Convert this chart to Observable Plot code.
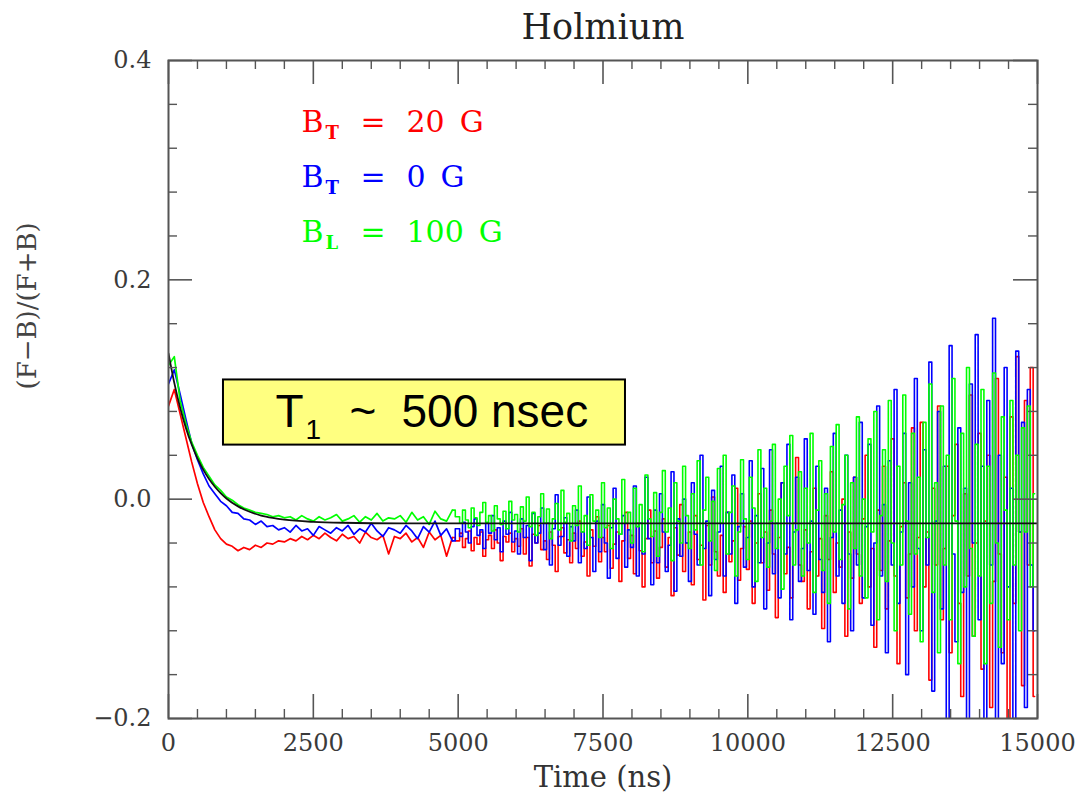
<!DOCTYPE html>
<html>
<head>
<meta charset="utf-8">
<script src="https://cdn.jsdelivr.net/npm/d3@7"></script>
<script src="https://cdn.jsdelivr.net/npm/@observablehq/plot@0.6"></script>
<style>
  html, body { margin: 0; padding: 0; background: #fff; }
</style>
</head>
<body>
<div id="chart"></div>
<script>
// ---- Data ----
// time bins in ns: 100 ns bins up to 5000 ns, 50 ns bins after
const time = [
  0,100,200,300,400,500,600,700,800,900,1000,1100,1200,1300,1400,1500,1600,1700,1800,1900,
  2000,2100,2200,2300,2400,2500,2600,2700,2800,2900,3000,3100,3200,3300,3400,3500,3600,3700,3800,3900,
  4000,4100,4200,4300,4400,4500,4600,4700,4800,4900,
  5000,5050,5100,5150,5200,5250,5300,5350,5400,5450,5500,5550,5600,5650,5700,5750,5800,5850,5900,5950,
  6000,6050,6100,6150,6200,6250,6300,6350,6400,6450,6500,6550,6600,6650,6700,6750,6800,6850,6900,6950,
  7000,7050,7100,7150,7200,7250,7300,7350,7400,7450,7500,7550,7600,7650,7700,7750,7800,7850,7900,7950,
  8000,8050,8100,8150,8200,8250,8300,8350,8400,8450,8500,8550,8600,8650,8700,8750,8800,8850,8900,8950,
  9000,9050,9100,9150,9200,9250,9300,9350,9400,9450,9500,9550,9600,9650,9700,9750,9800,9850,9900,9950,
  10000,10050,10100,10150,10200,10250,10300,10350,10400,10450,10500,10550,10600,10650,10700,10750,10800,10850,10900,10950,
  11000,11050,11100,11150,11200,11250,11300,11350,11400,11450,11500,11550,11600,11650,11700,11750,11800,11850,11900,11950,
  12000,12050,12100,12150,12200,12250,12300,12350,12400,12450,12500,12550,12600,12650,12700,12750,12800,12850,12900,12950,
  13000,13050,13100,13150,13200,13250,13300,13350,13400,13450,13500,13550,13600,13650,13700,13750,13800,13850,13900,13950,
  14000,14050,14100,14150,14200,14250,14300,14350,14400,14450,14500,14550,14600,14650,14700,14750,14800,14850,14900,14950
];

// B_T = 20 G (red)
const asymBT20 = [
  0.085,0.100,0.078,0.056,0.034,0.014,-0.003,-0.016,-0.028,-0.036,-0.041,-0.043,-0.047,-0.044,-0.046,-0.042,-0.044,-0.040,-0.041,-0.038,
  -0.039,-0.036,-0.038,-0.034,-0.037,-0.033,-0.036,-0.031,-0.035,-0.038,-0.032,-0.036,-0.034,-0.040,-0.030,-0.035,-0.037,-0.033,-0.050,-0.034,
  -0.036,-0.031,-0.039,-0.035,-0.044,-0.030,-0.037,-0.033,-0.052,-0.035,
  -0.038,-0.031,-0.044,-0.036,-0.029,-0.047,-0.035,-0.041,-0.030,-0.052,-0.037,-0.033,-0.045,-0.028,-0.040,-0.056,-0.034,-0.039,-0.031,-0.048,
  -0.036,-0.043,-0.027,-0.050,-0.035,-0.061,-0.032,-0.040,-0.024,-0.046,-0.038,-0.055,-0.030,-0.042,-0.066,-0.034,-0.026,-0.049,-0.037,-0.058,
  -0.031,-0.045,-0.020,-0.052,-0.039,-0.070,-0.028,-0.043,-0.016,-0.057,-0.035,-0.048,-0.024,-0.063,-0.041,-0.030,-0.075,-0.038,-0.012,-0.054,
  -0.033,-0.068,-0.022,-0.047,-0.080,-0.036,-0.010,-0.058,-0.029,-0.072,-0.044,-0.018,-0.062,-0.035,-0.088,-0.026,-0.051,-0.005,-0.066,-0.040,
  -0.030,-0.078,-0.015,-0.055,-0.042,-0.092,-0.024,-0.060,0.002,-0.048,-0.070,-0.033,-0.085,-0.012,-0.057,-0.038,0.010,-0.074,-0.045,-0.025,
  -0.064,-0.020,-0.095,-0.040,0.005,-0.058,-0.030,-0.083,-0.010,-0.050,-0.108,-0.035,0.015,-0.068,-0.044,-0.090,-0.022,0.038,-0.060,-0.075,
  -0.028,-0.100,-0.048,0.010,-0.070,-0.036,-0.118,-0.015,-0.055,0.025,-0.085,-0.040,-0.062,0.000,-0.125,-0.030,-0.072,0.020,-0.050,-0.095,
  -0.018,0.040,-0.080,-0.045,-0.135,-0.010,-0.065,0.030,-0.100,-0.038,0.055,-0.070,-0.150,-0.025,0.015,-0.090,-0.050,0.065,-0.120,-0.035,
  0.070,-0.080,-0.030,-0.165,0.010,-0.060,0.085,-0.110,-0.045,0.030,-0.140,-0.015,0.050,-0.095,-0.180,0.005,-0.070,0.095,-0.125,-0.040,
  0.060,-0.155,-0.020,0.040,-0.190,-0.075,0.110,-0.050,-0.140,0.020,-0.200,0.075,-0.095,0.130,-0.030,-0.170,0.090,-0.060,0.120,-0.180
];

// B_T = 0 G (blue)
const asymBT0 = [
  0.105,0.118,0.096,0.073,0.051,0.036,0.023,0.012,0.005,-0.002,-0.006,-0.012,-0.013,-0.018,-0.019,-0.023,-0.020,-0.025,-0.024,-0.028,
  -0.026,-0.030,-0.024,-0.029,-0.027,-0.033,-0.025,-0.028,-0.031,-0.026,-0.029,-0.024,-0.032,-0.027,-0.030,-0.022,-0.029,-0.034,-0.026,-0.028,
  -0.031,-0.024,-0.029,-0.036,-0.025,-0.030,-0.020,-0.033,-0.027,-0.038,
  -0.027,-0.034,-0.021,-0.030,-0.040,-0.025,-0.018,-0.033,-0.028,-0.045,-0.022,-0.031,-0.015,-0.037,-0.026,-0.048,-0.020,-0.032,-0.012,-0.039,
  -0.029,-0.050,-0.018,-0.035,-0.024,-0.056,-0.013,-0.040,-0.031,-0.008,-0.046,-0.022,-0.060,-0.027,0.004,-0.042,-0.034,-0.017,-0.052,-0.025,
  -0.038,-0.010,-0.058,-0.030,-0.045,0.002,-0.035,-0.066,-0.020,-0.048,-0.005,-0.040,-0.072,-0.026,0.010,-0.054,-0.032,-0.015,-0.062,-0.028,
  -0.044,0.012,-0.070,-0.022,-0.050,0.020,-0.036,-0.078,-0.010,-0.058,0.005,-0.030,-0.066,-0.042,0.025,-0.084,-0.018,-0.052,0.000,-0.040,
  -0.075,0.015,-0.032,-0.060,0.040,-0.045,-0.020,-0.088,0.008,-0.055,-0.030,0.030,-0.070,-0.012,-0.050,0.022,-0.095,-0.025,0.005,-0.062,
  -0.035,0.035,-0.080,-0.015,-0.058,0.028,-0.100,-0.040,0.045,-0.068,-0.022,-0.090,0.015,-0.050,0.050,-0.110,-0.030,0.020,-0.075,-0.045,
  0.055,-0.065,-0.020,-0.105,0.030,-0.055,-0.085,0.010,-0.130,-0.035,0.060,-0.070,-0.010,-0.095,0.040,-0.050,-0.120,0.020,-0.060,0.070,
  -0.090,-0.025,0.050,-0.115,-0.040,0.085,-0.070,-0.005,-0.140,0.035,-0.060,0.100,-0.095,-0.030,0.060,-0.160,0.015,-0.080,0.110,-0.045,
  -0.120,0.045,-0.060,0.125,-0.175,-0.020,0.080,-0.100,0.030,-0.210,0.140,-0.050,-0.130,0.065,-0.085,0.010,-0.250,0.105,-0.040,0.150,
  -0.110,0.030,-0.220,0.090,-0.060,0.165,-0.260,0.040,-0.150,0.120,-0.080,0.010,-0.230,0.135,-0.030,0.070,-0.190,0.100,-0.060,-0.120
];

// B_L = 100 G (green)
const asymBL100 = [
  0.122,0.130,0.090,0.069,0.052,0.040,0.029,0.021,0.013,0.008,0.002,-0.001,-0.005,-0.008,-0.010,-0.012,-0.013,-0.014,-0.016,-0.015,
  -0.017,-0.016,-0.019,-0.015,-0.018,-0.020,-0.016,-0.019,-0.017,-0.014,-0.020,-0.018,-0.015,-0.021,-0.016,-0.019,-0.013,-0.020,-0.017,-0.018,
  -0.015,-0.021,-0.012,-0.019,-0.016,-0.023,-0.011,-0.018,-0.020,-0.010,
  -0.016,-0.022,-0.010,-0.019,-0.026,-0.008,-0.017,-0.024,-0.012,-0.003,-0.021,-0.015,-0.029,-0.006,-0.018,-0.023,-0.011,-0.027,-0.002,-0.019,
  -0.014,-0.030,-0.007,-0.020,0.002,-0.025,-0.012,-0.033,-0.016,0.005,-0.022,-0.009,-0.036,-0.018,-0.004,-0.028,0.008,-0.021,-0.013,-0.038,
  -0.006,-0.024,0.012,-0.030,-0.015,-0.042,0.004,-0.020,-0.010,-0.035,0.015,-0.026,-0.008,-0.045,0.000,-0.018,-0.032,0.018,-0.022,-0.012,
  -0.040,0.010,-0.025,-0.005,-0.048,0.022,-0.018,-0.034,0.006,-0.052,-0.012,0.026,-0.030,-0.008,-0.056,0.015,-0.020,-0.040,0.030,-0.015,
  -0.045,0.005,-0.028,0.035,-0.060,-0.010,0.020,-0.038,-0.002,-0.065,0.028,-0.022,0.040,-0.050,-0.012,0.012,-0.070,-0.030,0.036,-0.018,
  -0.055,0.020,-0.008,-0.075,0.045,-0.035,0.010,-0.062,-0.020,0.050,-0.045,0.000,-0.082,0.030,-0.015,0.058,-0.060,-0.028,0.025,-0.070,
  0.010,-0.040,0.060,-0.085,-0.010,0.035,-0.065,0.005,-0.095,0.048,-0.030,0.068,-0.055,-0.005,0.040,-0.100,0.015,-0.045,0.075,-0.070,
  0.000,-0.090,0.055,-0.030,0.080,-0.110,-0.015,0.045,-0.075,0.090,-0.040,-0.120,0.030,-0.060,0.095,-0.020,-0.105,0.060,-0.050,0.020,
  -0.130,0.070,-0.035,0.105,-0.085,0.015,-0.140,0.085,-0.060,0.040,-0.110,0.110,-0.020,-0.150,0.060,-0.080,0.120,-0.045,-0.125,0.050,
  -0.070,0.100,-0.150,0.030,-0.095,0.115,-0.040,-0.135,0.075,-0.010,-0.110,0.090,-0.060,0.040,-0.120,0.065,-0.030,0.085,-0.080,0.005
];

// Fit curve (black)
const fitTime  = [0,100,200,300,400,500,600,700,800,900,1000,1200,1400,1600,1800,2000,2500,3000,4000,15000];
const fitValue = [0.133,0.106,0.0835,0.065,0.0498,0.0373,0.0269,0.0183,0.0113,0.0055,0.0006,-0.0066,-0.0115,-0.0149,-0.0171,-0.0187,-0.0207,-0.0215,-0.022,-0.022];

const seriesNames  = ["BT20", "BT0", "BL100"];
const seriesColors = ["#ff0000", "#0000ff", "#00ff00"];
const xTicks = [0, 2500, 5000, 7500, 10000, 12500, 15000];
const yTicks = [-0.2, 0.0, 0.2, 0.4];

// ---- Build tables ----
const seriesValues = [asymBT20, asymBT0, asymBL100];
const rows = [];
seriesValues.forEach((vals, k) => vals.forEach((v, i) => rows.push({t: time[i], v, s: seriesNames[k]})));
const fitRows = fitTime.map((t, i) => ({t, v: fitValue[i]}));
const splitT = 4900; // early part drawn as a smooth trace, late noisy part as histogram steps

const W = 1075, H = 792;
const mL = 168, mR = 38, mT = 60, mB = 74;
const plotW = W - mL - mR, plotH = H - mT - mB;
const majorLen = 24, minorLen = 9;
const xMinor = d3.range(0, 15001, 500).filter(d => !xTicks.includes(d));
const yMinor = d3.range(-0.2, 0.401, 0.04).filter(d => !yTicks.some(t => Math.abs(t - d) < 1e-6));

const axisColor = "#555";
const serif = "DejaVu Serif";
const sans = "Liberation Sans, Arial, sans-serif";

const legend = [
  {sub: "T", rest: "20\u2002G", color: "#ff0000", base: 131},
  {sub: "T", rest: "0\u2002G",  color: "#0000ff", base: 186},
  {sub: "L", rest: "100\u2002G", color: "#00ff00", base: 241}
];

const marks = [
  ...seriesNames.flatMap((name, k) => [
    Plot.line(rows.filter(r => r.s === name && r.t <= splitT), {
      x: "t", y: "v", stroke: seriesColors[k], strokeWidth: 1.7, curve: "linear", clip: true
    }),
    Plot.line(rows.filter(r => r.s === name && r.t >= splitT), {
      x: "t", y: "v", stroke: seriesColors[k], strokeWidth: 1.6, curve: "step", clip: true
    })
  ]),
  Plot.line(fitRows, {x: "t", y: "v", stroke: "#111", strokeWidth: 1.8, curve: "monotone-x", clip: true}),

  // annotation box
  Plot.rect([{x1: 949, x2: 7888, y1: 0.0493, y2: 0.1087}], {x1: "x1", x2: "x2", y1: "y1", y2: "y2", fill: "#ffff80", stroke: "#000", strokeWidth: 2}),
  Plot.text(["T"], {frameAnchor: "top-left", dx: 107, dy: 366, lineAnchor: "bottom", textAnchor: "start", fontSize: 46, fontFamily: sans, fill: "#000"}),
  Plot.text(["1"], {frameAnchor: "top-left", dx: 137, dy: 378, lineAnchor: "bottom", textAnchor: "start", fontSize: 28, fontFamily: sans, fill: "#000"}),
  Plot.text(["~"], {frameAnchor: "top-left", dx: 181, dy: 366, lineAnchor: "bottom", textAnchor: "start", fontSize: 46, fontFamily: sans, fill: "#000"}),
  Plot.text(["500 nsec"], {frameAnchor: "top-left", dx: 233, dy: 366, lineAnchor: "bottom", textAnchor: "start", fontSize: 46, fontFamily: sans, fill: "#000"}),

  // legend
  ...legend.flatMap(l => [
    Plot.text(["B"], {frameAnchor: "top-left", dx: 133, dy: l.base - mT, lineAnchor: "bottom", textAnchor: "start", fontSize: 30, fontFamily: serif, fill: l.color}),
    Plot.text([l.sub], {frameAnchor: "top-left", dx: 157, dy: l.base - mT + 7, lineAnchor: "bottom", textAnchor: "start", fontSize: 18, fontWeight: "bold", fontFamily: serif, fill: l.color}),
    Plot.text(["="], {frameAnchor: "top-left", dx: 192, dy: l.base - mT, lineAnchor: "bottom", textAnchor: "start", fontSize: 30, fontFamily: serif, fill: l.color}),
    Plot.text([l.rest], {frameAnchor: "top-left", dx: 238, dy: l.base - mT, lineAnchor: "bottom", textAnchor: "start", fontSize: 30, fontFamily: serif, fill: l.color})
  ]),

  // frame and inward ticks
  Plot.frame({stroke: axisColor, strokeWidth: 2}),
  Plot.tickX(xTicks, {x: d => d, insetTop: plotH - majorLen, stroke: axisColor, strokeWidth: 1.6}),
  Plot.tickX(xTicks, {x: d => d, insetBottom: plotH - majorLen, stroke: axisColor, strokeWidth: 1.6}),
  Plot.tickX(xMinor, {x: d => d, insetTop: plotH - minorLen, stroke: axisColor, strokeWidth: 1.4}),
  Plot.tickX(xMinor, {x: d => d, insetBottom: plotH - minorLen, stroke: axisColor, strokeWidth: 1.4}),
  Plot.tickY(yTicks, {y: d => d, insetRight: plotW - majorLen, stroke: axisColor, strokeWidth: 1.6}),
  Plot.tickY(yTicks, {y: d => d, insetLeft: plotW - majorLen, stroke: axisColor, strokeWidth: 1.6}),
  Plot.tickY(yMinor, {y: d => d, insetRight: plotW - minorLen, stroke: axisColor, strokeWidth: 1.4}),
  Plot.tickY(yMinor, {y: d => d, insetLeft: plotW - minorLen, stroke: axisColor, strokeWidth: 1.4}),

  // axes (tick labels)
  Plot.axisX({ticks: xTicks, tickSize: 0, tickPadding: 15, tickFormat: d3.format("d"), fontSize: 24, label: null, fill: "#3a3a3a"}),
  Plot.axisY({ticks: yTicks, tickSize: 0, tickPadding: 17, tickFormat: d3.format(".1f"), fontSize: 24, label: null, fill: "#3a3a3a"}),

  // titles
  Plot.text(["Holmium"], {frameAnchor: "top", dy: -33, lineAnchor: "middle", fontSize: 35, fontFamily: serif, fill: "#222"}),
  Plot.text(["Time (ns)"], {frameAnchor: "bottom", dy: 59, lineAnchor: "middle", fontSize: 29, fontFamily: serif, fill: "#333"}),
  Plot.text(["(F\u2212B)/(F+B)"], {frameAnchor: "left", dx: -141, rotate: -90, lineAnchor: "middle", fontSize: 26, fontFamily: serif, fill: "#444"})
];

const chart = Plot.plot({
  width: W, height: H,
  marginLeft: mL, marginRight: mR, marginTop: mT, marginBottom: mB,
  x: {domain: [0, 15000]},
  y: {domain: [-0.2, 0.4]},
  style: {fontFamily: serif, background: "#fff", overflow: "visible"},
  marks
});
document.getElementById("chart").appendChild(chart);
</script>
</body>
</html>
